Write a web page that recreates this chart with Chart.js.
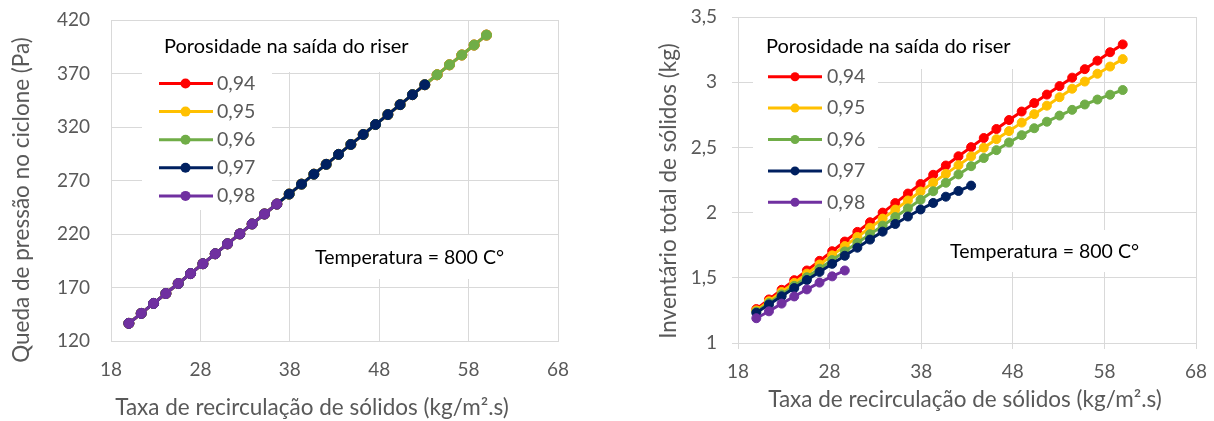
<!DOCTYPE html>
<html><head><meta charset="utf-8">
<script src="https://cdn.jsdelivr.net/npm/chart.js@4.4.1/dist/chart.umd.min.js"></script>
<style>
html,body{margin:0;padding:0;background:#fff;}
#wrap{position:relative;width:1214px;height:421px;overflow:hidden;}
.c{position:absolute;top:0;width:607px;height:421px;}
</style></head><body>
<div id="wrap">
<div class="c" style="left:0"><canvas id="left"></canvas></div>
<div class="c" style="left:607px"><canvas id="right"></canvas></div>
</div>
<script>
// ---------- data ----------
const taxa = [20, 21.38, 22.76, 24.14, 25.52, 26.9, 28.28, 29.66, 31.03, 32.41, 33.79, 35.17, 36.55, 37.93, 39.31,
  40.69, 42.07, 43.45, 44.83, 46.21, 47.59, 48.97, 50.34, 51.72, 53.1, 54.48, 55.86, 57.24, 58.62, 60];
const seriesLabels = ['0,94', '0,95', '0,96', '0,97', '0,98'];
const seriesColors = ['#FF0000', '#FFC000', '#70AD47', '#002060', '#7030A0'];

// Left: pressure drop in cyclone (Pa) - all porosities overlap
const queda094 = [136.5, 145.8, 155.1, 164.4, 173.7, 183.0, 192.2, 201.5, 210.8, 220.1, 229.4, 238.7, 248.0, 257.3, 266.6,
  275.9, 285.1, 294.4, 303.7, 313.0, 322.3, 331.6, 340.9, 350.2, 359.5, 368.8, 378.1, 387.3, 396.6, 405.9];
const queda095 = [136.5, 145.8, 155.1, 164.4, 173.7, 183.0, 192.2, 201.5, 210.8, 220.1, 229.4, 238.7, 248.0, 257.3, 266.6,
  275.9, 285.1, 294.4, 303.7, 313.0, 322.3, 331.6, 340.9, 350.2, 359.5, 368.8, 378.1, 387.3, 396.6, 405.9];
const queda096 = [136.5, 145.8, 155.1, 164.4, 173.7, 183.0, 192.2, 201.5, 210.8, 220.1, 229.4, 238.7, 248.0, 257.3, 266.6,
  275.9, 285.1, 294.4, 303.7, 313.0, 322.3, 331.6, 340.9, 350.2, 359.5, 368.8, 378.1, 387.3, 396.6, 405.9];
const queda097 = [136.5, 145.8, 155.1, 164.4, 173.7, 183.0, 192.2, 201.5, 210.8, 220.1, 229.4, 238.7, 248.0, 257.3, 266.6,
  275.9, 285.1, 294.4, 303.7, 313.0, 322.3, 331.6, 340.9, 350.2, 359.5];
const queda098 = [136.5, 145.8, 155.1, 164.4, 173.7, 183.0, 192.2, 201.5, 210.8, 220.1, 229.4, 238.7, 248.0];

// Right: total solids inventory (kg)
const inv094 = [1.260, 1.334, 1.408, 1.482, 1.556, 1.630, 1.704, 1.778, 1.852, 1.926, 2.000, 2.073, 2.146, 2.219, 2.290,
  2.361, 2.432, 2.502, 2.572, 2.641, 2.710, 2.775, 2.840, 2.905, 2.970, 3.035, 3.100, 3.165, 3.230, 3.290];
const inv095 = [1.250, 1.320, 1.391, 1.461, 1.532, 1.602, 1.672, 1.743, 1.813, 1.884, 1.954, 2.023, 2.093, 2.162, 2.230,
  2.297, 2.364, 2.431, 2.497, 2.563, 2.625, 2.690, 2.755, 2.820, 2.885, 2.950, 3.005, 3.065, 3.120, 3.177];
const inv096 = [1.240, 1.306, 1.372, 1.438, 1.504, 1.570, 1.636, 1.702, 1.768, 1.834, 1.900, 1.966, 2.032, 2.098, 2.164,
  2.229, 2.293, 2.356, 2.418, 2.479, 2.538, 2.594, 2.647, 2.697, 2.744, 2.788, 2.829, 2.867, 2.904, 2.940];
const inv097 = [1.232, 1.295, 1.358, 1.421, 1.483, 1.545, 1.607, 1.669, 1.731, 1.793, 1.854, 1.913, 1.970, 2.024, 2.074,
  2.122, 2.166, 2.207];
const inv098 = [1.190, 1.243, 1.302, 1.357, 1.411, 1.463, 1.511, 1.556];

const xTickValues = [18, 28, 38, 48, 58, 68];
const xTickLabels = ['18', '28', '38', '48', '58', '68'];
const yTickValuesLeft = [120, 170, 220, 270, 320, 370, 420];
const yTickLabelsLeft = ['120', '170', '220', '270', '320', '370', '420'];
const yTickValuesRight = [1, 1.5, 2, 2.5, 3, 3.5];
const yTickLabelsRight = ['1', '1,5', '2', '2,5', '3', '3,5'];

const legendTitle = 'Porosidade na saída do riser';
const noteText = 'Temperatura = 800 C°';
const xTitle = 'Taxa de recirculação de sólidos (kg/m².s)';
const yTitleLeft = 'Queda de pressão no ciclone (Pa)';
const yTitleRight = 'Inventário total de sólidos (kg)';

// ---------- helpers ----------
const FONT = 'Lato';
const GRID = '#d9d9d9';
const GRAY = '#595959';

function makeDatasets(seriesList, radius) {
  return seriesList.map((vals, i) => ({
    label: seriesLabels[i],
    data: vals.map((v, k) => ({x: taxa[k], y: v})),
    borderColor: seriesColors[i],
    backgroundColor: seriesColors[i],
    pointBackgroundColor: seriesColors[i],
    pointBorderColor: seriesColors[i],
    pointRadius: radius,
    pointBorderWidth: 1,
    borderWidth: 3,
    tension: 0,
    order: seriesList.length - 1 - i
  }));
}

function labelFor(values, labels) {
  return v => { const k = values.findIndex(t => Math.abs(t - v) < 1e-9); return k >= 0 ? labels[k] : ''; };
}

function zeroPad(s) { s.paddingTop = 0; s.paddingBottom = 0; s.paddingLeft = 0; s.paddingRight = 0; }

const extras = {
  id: 'extras',
  beforeDatasetsDraw(chart, args, o) {
    const ctx = chart.ctx;
    ctx.save();
    ctx.fillStyle = '#ffffff';
    o.boxes.forEach(b => ctx.fillRect(b[0], b[1], b[2], b[3]));
    ctx.textBaseline = 'middle';
    ctx.textAlign = 'left';
    ctx.fillStyle = '#000';
    ctx.font = o.titleFont;
    ctx.fillText(legendTitle, o.titleX, o.titleY);
    chart.data.datasets.forEach((ds, i) => {
      const y = o.legY0 + i * o.legDy;
      ctx.strokeStyle = ds.borderColor;
      ctx.lineWidth = 3;
      ctx.beginPath(); ctx.moveTo(o.lx1, y); ctx.lineTo(o.lx2, y); ctx.stroke();
      ctx.fillStyle = ds.borderColor;
      ctx.beginPath(); ctx.arc(o.mx, y, o.r, 0, Math.PI * 2); ctx.fill();
      ctx.fillStyle = GRAY;
      ctx.font = o.labelFont;
      ctx.fillText(ds.label, o.tx, y);
    });
    ctx.fillStyle = '#000';
    ctx.font = o.noteFont;
    ctx.fillText(noteText, o.noteX, o.noteY);
    ctx.fillStyle = GRAY;
    ctx.font = o.axisFont;
    ctx.textAlign = 'center';
    ctx.fillText(xTitle, o.xtX, o.xtY);
    ctx.translate(o.ytX, o.ytY);
    ctx.rotate(-Math.PI / 2);
    ctx.fillText(o.yTitle, 0, 0);
    ctx.restore();
  }
};

function makeChart(id, cfg) {
  return new Chart(document.getElementById(id), {
    type: 'line',
    data: {datasets: makeDatasets(cfg.series, cfg.radius)},
    plugins: [extras],
    options: {
      responsive: true,
      maintainAspectRatio: false,
      devicePixelRatio: 1,
      animation: false,
      events: [],
      layout: {padding: cfg.padding},
      plugins: {legend: {display: false}, tooltip: {enabled: false}, extras: cfg.extras},
      scales: {
        x: {
          type: 'linear', min: 18, max: 68,
          afterFit: s => { s.height = cfg.xHeight; zeroPad(s); },
          afterBuildTicks: s => { s.ticks = xTickValues.map(v => ({value: v})); },
          grid: {color: GRID, lineWidth: 1, drawTicks: cfg.ticks, tickLength: 6, tickColor: GRID},
          border: {display: true, color: GRID, width: 1},
          ticks: {color: GRAY, font: {family: FONT, size: 19}, padding: cfg.xPad, maxRotation: 0,
                  callback: labelFor(xTickValues, xTickLabels)}
        },
        y: {
          type: 'linear', min: cfg.yMin, max: cfg.yMax,
          afterFit: s => { s.width = cfg.yWidth; zeroPad(s); },
          afterBuildTicks: s => { s.ticks = cfg.yVals.map(v => ({value: v})); },
          grid: {color: GRID, lineWidth: 1, drawTicks: cfg.ticks, tickLength: 6, tickColor: GRID},
          border: {display: true, color: GRID, width: 1},
          ticks: {color: GRAY, font: {family: FONT, size: 19}, padding: cfg.yPad,
                  callback: labelFor(cfg.yVals, cfg.yLabels)}
        }
      }
    }
  });
}

makeChart('left', {
  series: [queda094, queda095, queda096, queda097, queda098],
  radius: 5,
  padding: {left: 0, top: 20, right: 49, bottom: 0},
  xHeight: 80, yWidth: 111, ticks: false, xPad: 17, yPad: 21,
  yMin: 120, yMax: 420, yVals: yTickValuesLeft, yLabels: yTickLabelsLeft,
  extras: {
    boxes: [[112, 21, 318, 51], [142, 72, 130, 138], [305, 235, 215, 44]],
    titleFont: '20px ' + FONT, titleX: 164, titleY: 47,
    legY0: 83.5, legDy: 28.1, lx1: 159, lx2: 213, mx: 185.5, r: 5, tx: 217, labelFont: '19.5px ' + FONT,
    noteFont: '19.5px ' + FONT, noteX: 315, noteY: 258,
    axisFont: '22.5px ' + FONT, xtX: 312, xtY: 408, ytX: 22, ytY: 200, yTitle: yTitleLeft
  }
});

makeChart('right', {
  series: [inv094, inv095, inv096, inv097, inv098],
  radius: 4.5,
  padding: {left: 0, top: 17, right: 18, bottom: 0},
  xHeight: 78, yWidth: 131, ticks: true, xPad: 11, yPad: 15,
  yMin: 1, yMax: 3.5, yVals: yTickValuesRight, yLabels: yTickLabelsRight,
  extras: {
    boxes: [[135, 18, 278, 51], [146, 69, 125, 149], [333, 230, 210, 42]],
    titleFont: '20px ' + FONT, titleX: 159, titleY: 47,
    legY0: 76.7, legDy: 31.4, lx1: 161, lx2: 215, mx: 188, r: 4.5, tx: 220, labelFont: '19.5px ' + FONT,
    noteFont: '19.5px ' + FONT, noteX: 343, noteY: 252,
    axisFont: '22.5px ' + FONT, xtX: 358, xtY: 400, ytX: 62, ytY: 191, yTitle: yTitleRight
  }
});
</script>
</body></html>
